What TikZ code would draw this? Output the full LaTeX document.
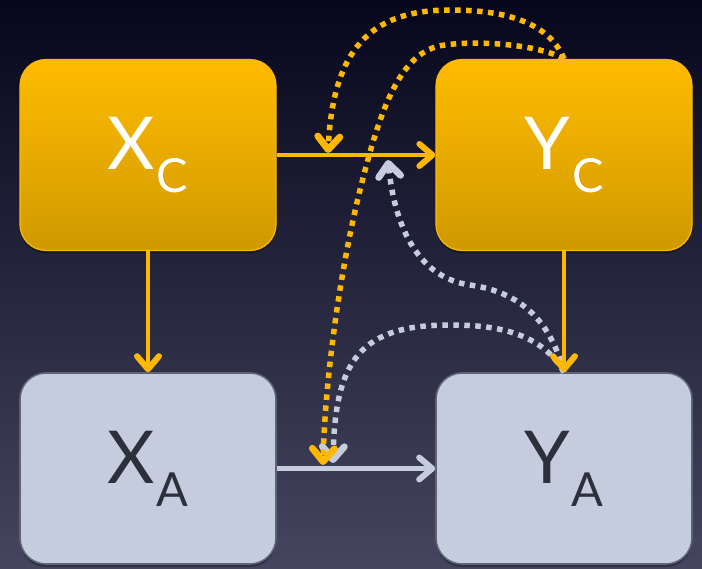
\documentclass[tikz,border=0pt]{standalone}
\usepackage{fontspec}
\setmainfont{Lato}
\usetikzlibrary{arrows.meta,shadows}

\definecolor{bgtop}{HTML}{06061C}
\definecolor{bgbot}{HTML}{45455F}
\definecolor{amber}{HTML}{FFB800}
\definecolor{ambertop}{HTML}{FFBB00}
\definecolor{amberbot}{HTML}{CF9900}
\definecolor{mist}{HTML}{C5CCDD}
\definecolor{mistedge}{HTML}{5D6475}
\definecolor{ink}{HTML}{2B303B}

% variable name with a large lowered subscript letter
\newcommand{\varlabel}[2]{{\fontsize{73}{73}\selectfont #1}\kern2pt\raisebox{-23pt}{\fontsize{47}{47}\selectfont #2}}

\begin{document}
\begin{tikzpicture}[x=1pt,y=-1pt,
  tip/.tip={Straight Barb[length=13pt,width=22pt,line width=0pt 1.25,line cap=round,line join=round]},
  box/.style={minimum width=256pt,minimum height=191pt,rounded corners=26pt,inner sep=0pt,
    drop shadow={shadow xshift=0pt,shadow yshift=-3pt,opacity=0.3,fill=black}},
  causebox/.style={box,top color=ambertop,bottom color=amberbot,draw=amber,line width=1.2pt,text=white},
  effectbox/.style={box,fill=mist,draw=mistedge,line width=1.6pt,text=ink},
  flow/.style={line width=4.8pt,draw=#1,-tip},
  feedback/.style={line width=5.5pt,draw=#1,dash pattern=on 5.5pt off 5.5pt,-tip},
]
  % background
  \shade[top color=bgtop,bottom color=bgbot] (0,0) rectangle (702,569);
  \useasboundingbox (0,0) rectangle (702,569);

  % boxes
  \node[causebox]  (xc) at (148,155)   {\varlabel{X}{C}};
  \node[causebox]  (yc) at (564,155)   {\varlabel{Y}{C}};
  \node[effectbox] (xa) at (148,468.5) {\varlabel{X}{A}};
  \node[effectbox] (ya) at (564,468.5) {\varlabel{Y}{A}};

  % end points of the dotted feedback arrows
  \coordinate (t1) at (328,153);
  \coordinate (t2) at (323,465);
  \coordinate (t3) at (388,160);
  \coordinate (t4) at (333,463);

  % solid arrows
  \draw[flow=amber] (xc) -- (yc);
  \draw[flow=amber] (xc) -- (xa);
  \draw[flow=mist]  (xa) -- (ya);

  % dotted arrows from the top of Y_A
  \draw[feedback=mist] (ya.north) .. controls (550,320) and (520,292) .. (470,285)
                                  .. controls (420,278) and (395,230) .. (t3);
  \draw[feedback=mist] (ya.north) .. controls (540,330) and (490,325) .. (450,325)
                                  .. controls (360,325) and (335,360) .. (t4);

  \draw[flow=amber] (yc) -- (ya);

  % dotted arrows from the top of Y_C
  \draw[feedback=amber] (yc.north) .. controls (548,20) and (500,10) .. (450,10)
                                   .. controls (370,10) and (333,50) .. (t1);
  \draw[feedback=amber] (yc.north) .. controls (540,45) and (480,40) .. (445,45)
                                   .. controls (400,50) and (380,110) .. (360,190)
                                   .. controls (340,270) and (325,380) .. (t2);
\end{tikzpicture}
\end{document}
